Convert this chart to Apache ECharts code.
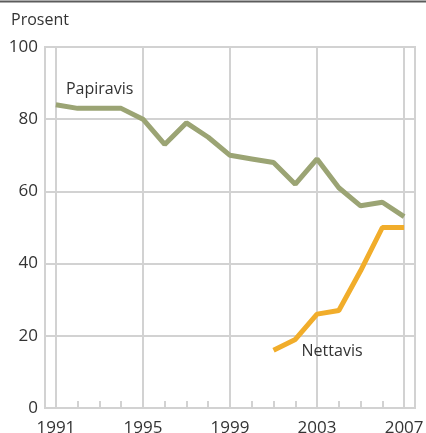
<!DOCTYPE html>
<html><head><meta charset="utf-8">
<script src="https://cdn.jsdelivr.net/npm/echarts@6/dist/echarts.min.js"></script>
<style>html,body{margin:0;padding:0;background:#fff}#c{width:426px;height:433px}</style>
</head><body><div id="c"></div>
<script>
var years = ['1991','1992','1993','1994','1995','1996','1997','1998','1999','2000','2001','2002','2003','2004','2005','2006','2007'];
var papiravis = [84,83,83,83,80,73,79,75,70,69,68,62,69,61,56,57,53];
var nettavis = [null,null,null,null,null,null,null,null,null,null,16,19,26,27,38,50,50];
var yTicks = [0,20,40,60,80,100];

var font = '"Open Sans", "Noto Sans", sans-serif';
var gridColor = '#d2d2d2';
function withLabel(arr, idx, label) {
  return arr.map(function (v, i) {
    if (i === idx) return { value: v, label: label };
    return v;
  });
}
var chart = echarts.init(document.getElementById('c'));
chart.setOption({
  animation: false,
  textStyle: { fontFamily: font },
  title: { text: 'Prosent', left: 6, top: 7, textStyle: { fontFamily: font, fontSize: 16, fontWeight: 'normal', color: '#333' } },
  graphic: [{ type: 'line', shape: { x1: 0, y1: 1.5, x2: 426, y2: 1.5 }, style: { stroke: '#5c5c5c', lineWidth: 2 } }],
  grid: { left: 45, right: 11, top: 47, bottom: 25, show: true, borderColor: gridColor, borderWidth: 2, backgroundColor: 'transparent', containLabel: false, outerBoundsMode: 'none' },
  xAxis: {
    type: 'category', data: years, boundaryGap: true,
    axisLine: { show: true, lineStyle: { color: gridColor, width: 2 } },
    axisTick: { show: true, inside: true, length: 7, alignWithLabel: true, interval: 0, lineStyle: { color: gridColor, width: 2 } },
    axisLabel: { interval: 3, fontSize: 17, color: '#333', margin: 12, fontFamily: font, hideOverlap: false },
    splitLine: { show: true, interval: 3, alignWithLabel: true, lineStyle: { color: gridColor, width: 2 } }
  },
  yAxis: {
    type: 'value', min: yTicks[0], max: yTicks[yTicks.length - 1], interval: 20,
    axisLine: { show: true, lineStyle: { color: gridColor, width: 2 } },
    axisTick: { show: false },
    axisLabel: { fontSize: 17, color: '#333', margin: 7, fontFamily: font, padding: [5, 0, 0, 0] },
    splitLine: { show: true, lineStyle: { color: gridColor, width: 2 } }
  },
  series: [
    {
      name: 'Papiravis', type: 'line', data: withLabel(papiravis, 1, { show: true, formatter: 'Papiravis', position: 'top', offset: [22, -6], fontSize: 16, color: '#333', fontFamily: font }),
      symbol: 'circle', symbolSize: 0, showAllSymbol: true,
      lineStyle: { color: '#9ba474', width: 5 }, itemStyle: { color: '#9ba474' }
    },
    {
      name: 'Nettavis', type: 'line', data: withLabel(nettavis, 12, { show: true, formatter: 'Nettavis', position: 'bottom', offset: [15, 24], fontSize: 16, color: '#333', fontFamily: font }),
      symbol: 'circle', symbolSize: 0, showAllSymbol: true,
      lineStyle: { color: '#f1ad2b', width: 5 }, itemStyle: { color: '#f1ad2b' }
    }
  ]
});
</script></body></html>
